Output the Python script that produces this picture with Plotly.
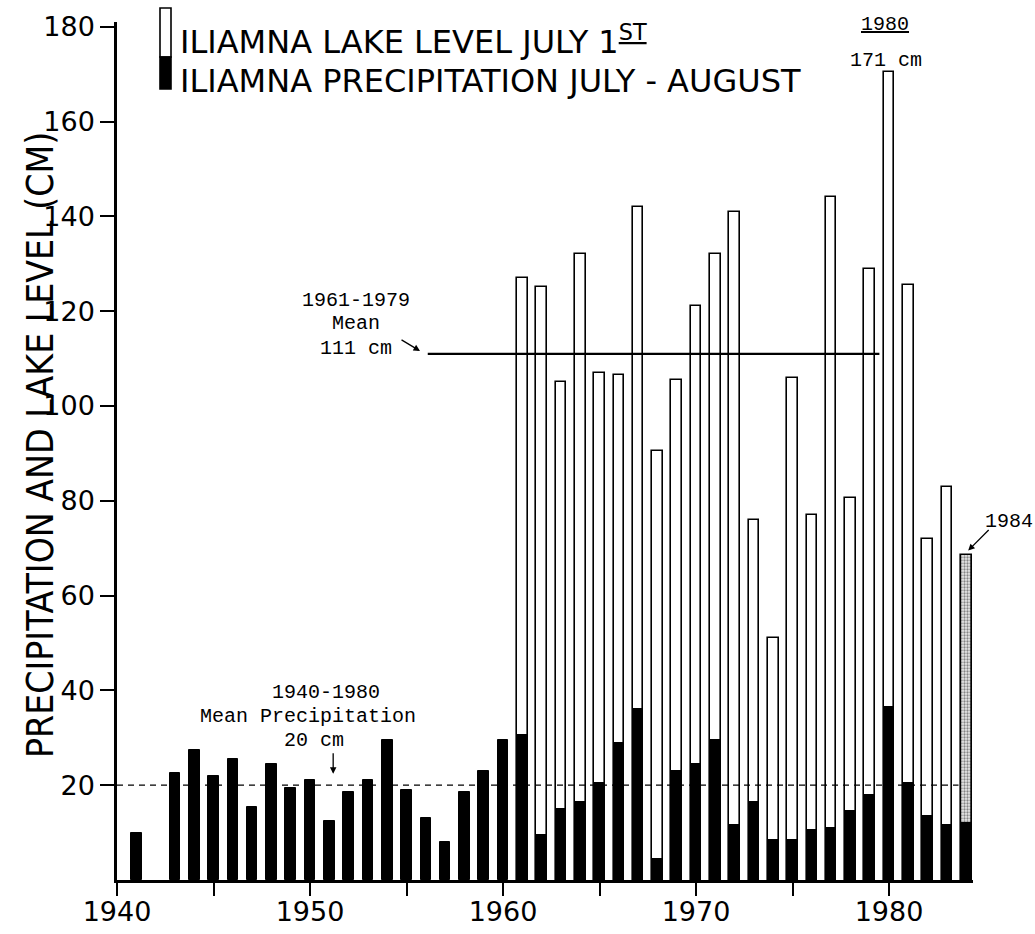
import plotly.graph_objects as go

# ---------------- data ----------------
precip_years = [1941] + list(range(1943, 1985))
precip_cm = [10, 22.5, 27.5, 22, 25.5, 15.5, 24.5, 19.5, 21, 12.5, 18.5, 21, 29.5, 19,
             13, 8, 18.5, 23, 29.5, 30.5, 9.5, 15, 16.5, 20.5, 29, 36, 4.5, 23, 24.5,
             29.5, 11.5, 16.5, 8.5, 8.5, 10.5, 11, 14.5, 18, 36.5, 20.5, 13.5, 11.5, 12]

lake_years = list(range(1961, 1985))
lake_cm = [127, 125, 105, 132, 107, 106.5, 142, 90.5, 105.5, 121, 132, 141, 76, 51,
           106, 77, 144, 80.5, 129, 170.5, 125.5, 72, 83, 68.5]

mean_lake = 111          # 1961-1979 mean lake level
mean_lake_span = [1956.1, 1979.5]
mean_precip = 20         # 1940-1980 mean precipitation
mean_precip_span = [1940, 1983.6]

x_ticks = [1940, 1950, 1960, 1970, 1980]
y_ticks = [20, 40, 60, 80, 100, 120, 140, 160, 180]

# ---------------- layout geometry (pixels) ----------------
W, H = 1035, 934
L, R, T, B = 117, 62, 22, 54
PW, PH = W - L - R, H - T - B


def px(xp):
    return (xp - L) / PW


def py(yp):
    return (H - B - yp) / PH


fig = go.Figure()

pattern_shapes = [""] * (len(lake_years) - 1) + ["."]
fig.add_trace(go.Bar(
    x=lake_years, y=lake_cm, width=0.55,
    marker=dict(color="white", line=dict(color="black", width=1.6),
                pattern=dict(shape=pattern_shapes, fgcolor="#222", bgcolor="#e8e8e8",
                             size=3, solidity=0.45)),
    name="ILIAMNA LAKE LEVEL JULY 1ST", showlegend=False))

fig.add_trace(go.Bar(
    x=precip_years, y=precip_cm, width=0.55,
    marker=dict(color="black", line=dict(color="black", width=1)),
    name="ILIAMNA PRECIPITATION JULY - AUGUST", showlegend=False))

fig.add_trace(go.Scatter(
    x=mean_precip_span, y=[mean_precip, mean_precip], mode="lines",
    line=dict(color="black", width=1.3, dash="6px,5px"), showlegend=False,
    hoverinfo="skip"))

fig.add_trace(go.Scatter(
    x=mean_lake_span, y=[mean_lake, mean_lake], mode="lines",
    line=dict(color="black", width=2.2), showlegend=False, hoverinfo="skip"))

tick_font = dict(family="DejaVu Sans", size=27, color="black")
mono = dict(family="Liberation Mono, Courier New, monospace", size=20, color="black")

fig.update_layout(
    width=W, height=H,
    margin=dict(l=L, r=R, t=T, b=B, autoexpand=False),
    plot_bgcolor="white", paper_bgcolor="white",
    barmode="overlay", bargap=0,
    xaxis=dict(range=[1940, 1984.35], tickvals=x_ticks, ticktext=[str(v) for v in x_ticks],
               ticks="outside", ticklen=13, tickwidth=2, tickcolor="black",
               showline=True, linecolor="black", linewidth=2.5, showgrid=False,
               zeroline=False, tickfont=tick_font, automargin=False,
               ticklabelstandoff=-7,
               minor=dict(dtick=5, tick0=1940, ticks="outside", ticklen=13,
                          tickwidth=2, tickcolor="black", showgrid=False)),
    yaxis=dict(range=[0, 181], tickvals=y_ticks, ticks="outside", ticklen=14,
               tickwidth=2, tickcolor="black", showline=True, linecolor="black",
               linewidth=2.5, showgrid=False, zeroline=False, tickfont=tick_font,
               automargin=False),
    font=dict(family="DejaVu Sans", color="black"),
)

ann = []
# y axis title
ann.append(dict(xref="paper", yref="paper", x=px(40), y=py(445),
                text="PRECIPITATION AND LAKE LEVEL (CM)", textangle=-90,
                showarrow=False, xanchor="center", yanchor="middle",
                font=dict(family="DejaVu Sans Condensed, Liberation Sans Narrow, sans-serif",
                          size=37, color="black")))
# legend texts
leg_font = dict(family="DejaVu Sans", size=32, color="black")
ann.append(dict(xref="paper", yref="paper", x=px(178), y=py(40),
                text="ILIAMNA LAKE LEVEL JULY 1<sup><u>ST</u></sup>",
                showarrow=False, xanchor="left", yanchor="middle", font=leg_font))
ann.append(dict(xref="paper", yref="paper", x=px(178), y=py(81),
                text="ILIAMNA PRECIPITATION JULY - AUGUST",
                showarrow=False, xanchor="left", yanchor="middle", font=leg_font))
# lake mean label
for txt, yy in [("1961-1979", 300), ("Mean", 324), ("111 cm", 348)]:
    ann.append(dict(xref="paper", yref="paper", x=px(356), y=py(yy), text=txt,
                    showarrow=False, xanchor="center", yanchor="middle", font=mono))
# precipitation mean label
for txt, xx, yy in [("1940-1980", 326, 692), ("Mean Precipitation", 308, 716),
                    ("20 cm", 314, 740)]:
    ann.append(dict(xref="paper", yref="paper", x=px(xx), y=py(yy), text=txt,
                    showarrow=False, xanchor="center", yanchor="middle", font=mono))
# 1980 label
ann.append(dict(xref="paper", yref="paper", x=px(885), y=py(24), text="<u>1980</u>",
                showarrow=False, xanchor="center", yanchor="middle", font=mono))
ann.append(dict(xref="paper", yref="paper", x=px(886), y=py(60), text="171 cm",
                showarrow=False, xanchor="center", yanchor="middle", font=mono))
# 1984 label
ann.append(dict(xref="paper", yref="paper", x=px(1009), y=py(521), text="1984",
                showarrow=False, xanchor="center", yanchor="middle", font=mono))

# arrows
ann.append(dict(x=1955.7, y=111.6, xref="x", yref="y", text="", showarrow=True,
                ax=-20, ay=-12, arrowhead=2, arrowsize=1, arrowwidth=1.3,
                arrowcolor="black"))
ann.append(dict(x=1951.2, y=22.4, xref="x", yref="y", text="", showarrow=True,
                ax=0, ay=-22, arrowhead=2, arrowsize=1, arrowwidth=1.3,
                arrowcolor="black"))
ann.append(dict(x=1984.1, y=69.5, xref="x", yref="y", text="", showarrow=True,
                ax=22, ay=-22, arrowhead=2, arrowsize=1, arrowwidth=1.3,
                arrowcolor="black"))
fig.update_layout(annotations=ann)

# legend icon (white top, black bottom)
shapes = [
    dict(type="rect", xref="paper", yref="paper", x0=px(160), x1=px(171),
         y0=py(57), y1=py(8), fillcolor="white", line=dict(color="black", width=1.6)),
    dict(type="rect", xref="paper", yref="paper", x0=px(160), x1=px(171),
         y0=py(89), y1=py(57), fillcolor="black", line=dict(color="black", width=1.6)),
]
fig.update_layout(shapes=shapes)

fig.write_html("out.html")
